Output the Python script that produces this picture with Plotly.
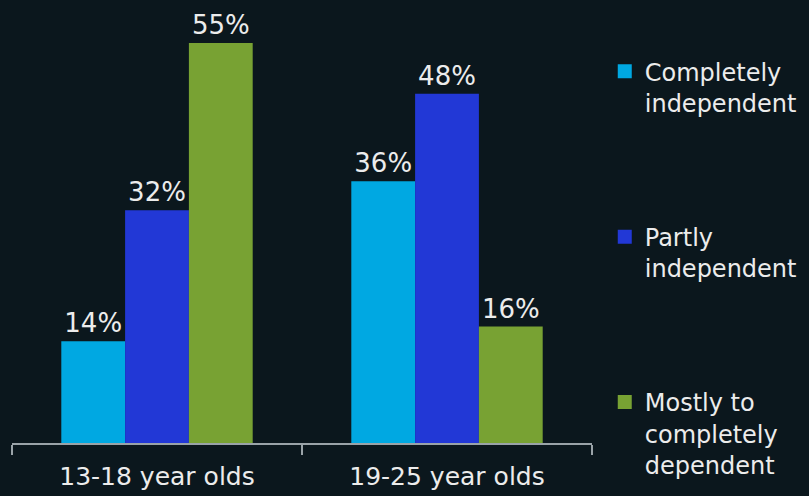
import plotly.graph_objects as go

categories = ["13-18 year olds", "19-25 year olds"]
series_names = ["Completely<br>independent", "Partly<br>independent", "Mostly to<br>completely<br>dependent"]
completely_independent = [14, 36]
partly_independent = [32, 48]
mostly_dependent = [55, 16]
series_values = [completely_independent, partly_independent, mostly_dependent]
colors = ["#00a8e2", "#2238d6", "#78a233"]

BG = "#0b171d"
TXT = "#ececec"
AXC = "#9aa3a8"
FONT = "DejaVu Sans"

fig = go.Figure()
for i, (name, vals, col) in enumerate(zip(series_names, series_values, colors)):
    fig.add_trace(go.Bar(
        x=categories, y=vals, name=name, marker=dict(color=col, line=dict(width=0)),
        text=[f"{v}%" for v in vals], textposition="outside",
        textfont=dict(family=FONT, size=26, color=TXT),
        cliponaxis=False, showlegend=False,
    ))
# legend entries (square swatches)
for i, (name, col) in enumerate(zip(series_names, colors)):
    fig.add_trace(go.Scatter(
        x=[None], y=[None], mode="markers", name=name,
        marker=dict(symbol="square", size=14, color=col, line=dict(width=0)),
        legendgroup=f"g{i}", showlegend=True,
    ))

fig.update_layout(
    width=809, height=496,
    paper_bgcolor=BG, plot_bgcolor=BG,
    margin=dict(l=12, r=217, t=0, b=53),
    barmode="group", bargap=0.34, bargroupgap=0,
    font=dict(family=FONT, color=TXT),
    showlegend=True,
    legend=dict(
        x=1.022, xanchor="left", y=0.889, yanchor="top",
        font=dict(family=FONT, size=24, color=TXT),
        tracegroupgap=100, valign="top", traceorder="grouped",
        bgcolor="rgba(0,0,0,0)", itemwidth=30, itemsizing="trace",
    ),
    xaxis=dict(
        showline=True, linecolor=AXC, linewidth=2,
        ticks="outside", tickson="boundaries", ticklen=10, tickcolor=AXC, tickwidth=2,
        tickfont=dict(family=FONT, size=25, color=TXT),
        ticklabelstandoff=10,
        showgrid=False, zeroline=False,
    ),
    yaxis=dict(range=[0, 60.9], visible=False, showgrid=False, zeroline=False),
)

fig.write_html(
    "out.html",
    config={"displayModeBar": False},
    post_script="document.body.style.margin='0';document.body.style.background='%s';" % BG,
)
